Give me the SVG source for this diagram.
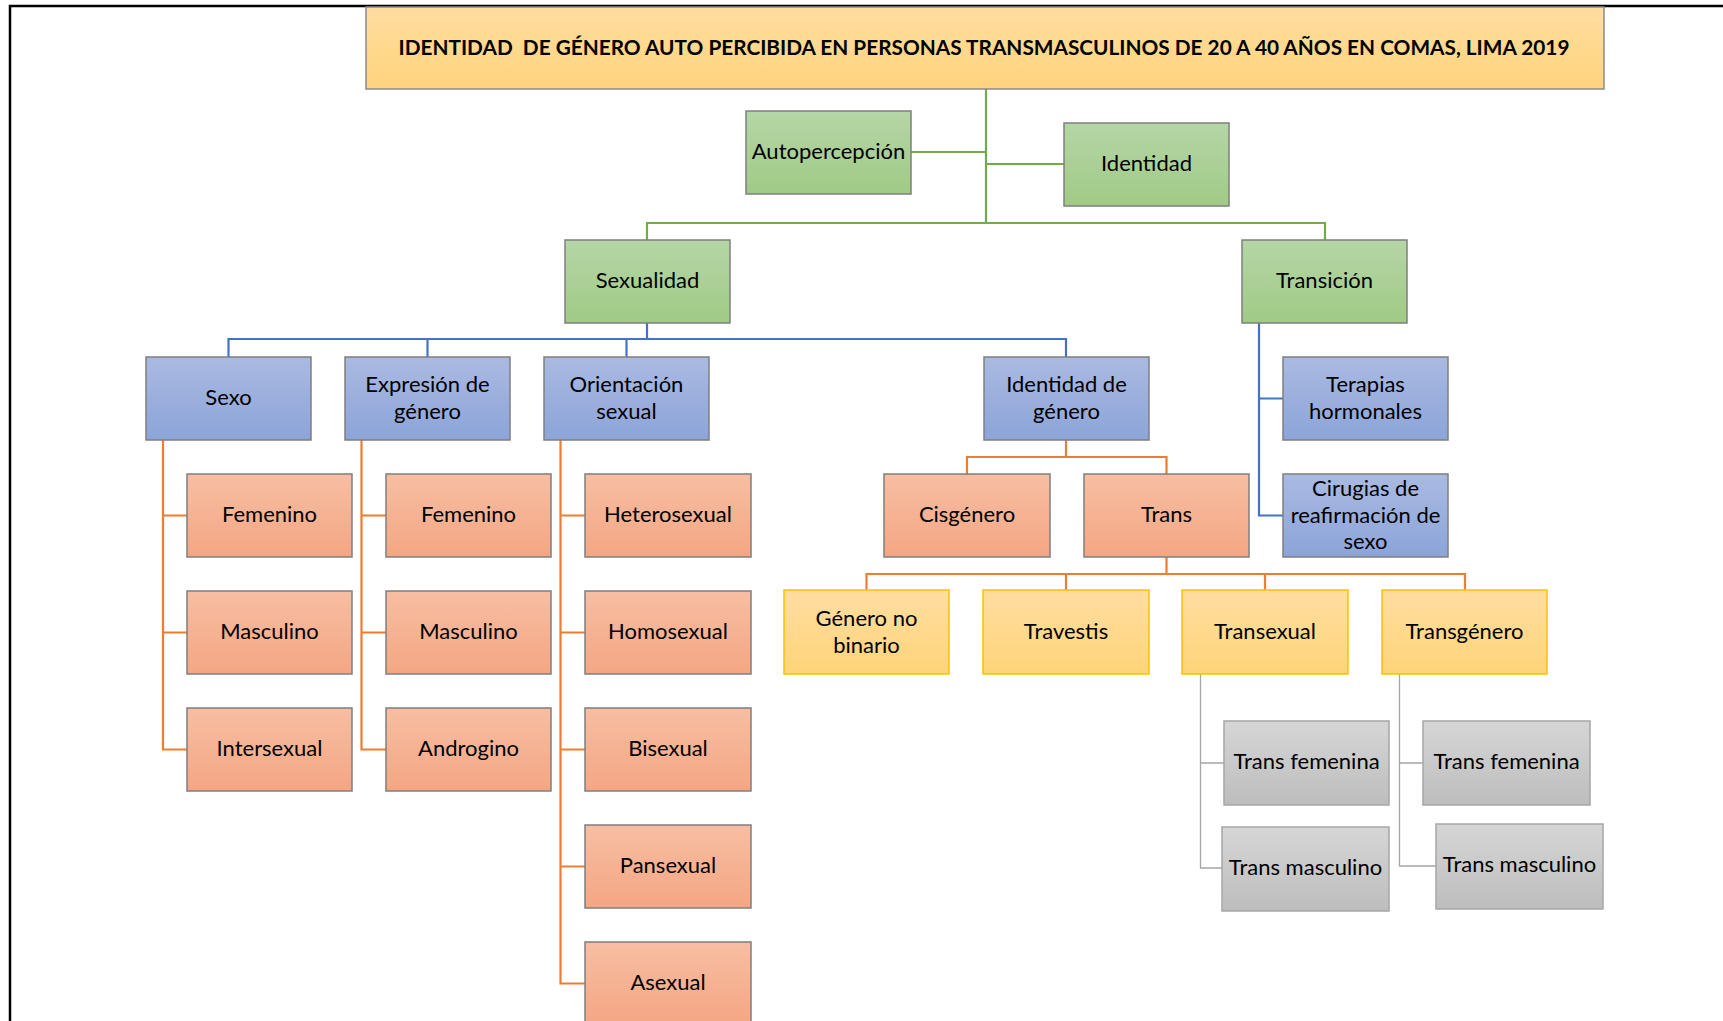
<svg xmlns="http://www.w3.org/2000/svg" width="1723" height="1021" viewBox="0 0 1723 1021">
<defs>
<linearGradient id="gTitle" x1="0" y1="0" x2="0" y2="1"><stop offset="0" stop-color="#FFDEA0"/><stop offset="1" stop-color="#FFD37C"/></linearGradient>
<linearGradient id="gGreen" x1="0" y1="0" x2="0" y2="1"><stop offset="0" stop-color="#B5D6A6"/><stop offset="1" stop-color="#A0CA86"/></linearGradient>
<linearGradient id="gBlue" x1="0" y1="0" x2="0" y2="1"><stop offset="0" stop-color="#AABAE1"/><stop offset="1" stop-color="#8CA4D9"/></linearGradient>
<linearGradient id="gOrange" x1="0" y1="0" x2="0" y2="1"><stop offset="0" stop-color="#F7BEA3"/><stop offset="1" stop-color="#F4A683"/></linearGradient>
<linearGradient id="gYellow" x1="0" y1="0" x2="0" y2="1"><stop offset="0" stop-color="#FFDEA1"/><stop offset="1" stop-color="#FFD479"/></linearGradient>
<linearGradient id="gGray" x1="0" y1="0" x2="0" y2="1"><stop offset="0" stop-color="#D6D6D6"/><stop offset="1" stop-color="#BDBDBD"/></linearGradient>
</defs>
<style>
text{font-family:Lato,"Liberation Sans",sans-serif;font-size:22px;fill:#000;text-anchor:middle}
.title text{font-weight:bold;font-size:21px;white-space:pre}
.t{fill:url(#gTitle);stroke:#8A8A8A;stroke-width:1.5}
.gr{fill:url(#gGreen);stroke:#7F7F7F;stroke-width:1.5}
.bl{fill:url(#gBlue);stroke:#7F7F7F;stroke-width:1.5}
.or{fill:url(#gOrange);stroke:#7F7F7F;stroke-width:1.5}
.ye{fill:url(#gYellow);stroke:#FFC000;stroke-width:1.5}
.gy{fill:url(#gGray);stroke:#A6A6A6;stroke-width:1.5}
.c{fill:none;stroke-width:2.2}
.cg{stroke:#70AD47}.cb{stroke:#4472C4}.co{stroke:#ED7D31}.cy{stroke:#A5A5A5;stroke-width:1.3}
</style>
<rect width="1723" height="1021" fill="#fff"/>
<path d="M10,1021 V6 H1723" fill="none" stroke="#000" stroke-width="2.5"/>

<g id="connectors">
<path class="c cg" d="M986,89 V223 M911,152 H986 M986,164 H1064 M647,240 V223 H1325 V240"/>
<path class="c cb" d="M647,323 V339 M228.5,357 V339 H1066 V357 M427.5,339 V357 M626.5,339 V357 M1259,323 V515.5 H1283 M1259,398.5 H1283"/>
<path class="c co" d="M163,440 V749.5 H187 M163,515.5 H187 M163,632.5 H187 M361.5,440 V749.5 H386 M361.5,515.5 H386 M361.5,632.5 H386 M560.5,440 V983.5 H585 M560.5,515.5 H585 M560.5,632.5 H585 M560.5,749.5 H585 M560.5,866.5 H585 M1066,440 V457 M967,474 V457 H1166.5 V474 M1166.5,557 V574 M866.5,590 V574 H1465 V590 M1066,574 V590 M1265,574 V590"/>
<path class="c cy" d="M1200.5,674 V868 H1222 M1200.5,763 H1224 M1399.5,674 V866 H1436 M1399.5,763 H1423"/>
</g>

<g id="title" class="title"><rect class="t" x="366" y="7" width="1238" height="82"/><text x="984" y="55" xml:space="preserve" textLength="1171" lengthAdjust="spacingAndGlyphs">IDENTIDAD  DE GÉNERO AUTO PERCIBIDA EN PERSONAS TRANSMASCULINOS DE 20 A 40 AÑOS EN COMAS, LIMA 2019</text></g>

<g id="autopercepcion"><rect class="gr" x="746" y="111" width="165" height="83"/><text x="828.5" y="159">Autopercepción</text></g>
<g id="identidad"><rect class="gr" x="1064" y="123" width="165" height="83"/><text x="1146.5" y="171">Identidad</text></g>
<g id="sexualidad"><rect class="gr" x="565" y="240" width="165" height="83"/><text x="647.5" y="288">Sexualidad</text></g>
<g id="transicion"><rect class="gr" x="1242" y="240" width="165" height="83"/><text x="1324.5" y="288">Transición</text></g>

<g id="sexo"><rect class="bl" x="146" y="357" width="165" height="83"/><text x="228.5" y="405">Sexo</text></g>
<g id="expresion"><rect class="bl" x="345" y="357" width="165" height="83"/><text x="427.5" y="392">Expresión de</text><text x="427.5" y="419">género</text></g>
<g id="orientacion"><rect class="bl" x="544" y="357" width="165" height="83"/><text x="626.5" y="392">Orientación</text><text x="626.5" y="419">sexual</text></g>
<g id="identidad-genero"><rect class="bl" x="984" y="357" width="165" height="83"/><text x="1066.5" y="392">Identidad de</text><text x="1066.5" y="419">género</text></g>
<g id="terapias"><rect class="bl" x="1283" y="357" width="165" height="83"/><text x="1365.5" y="392">Terapias</text><text x="1365.5" y="419">hormonales</text></g>
<g id="cirugias"><rect class="bl" x="1283" y="474" width="165" height="83"/><text x="1365.5" y="496">Cirugias de</text><text x="1365.5" y="523">reafirmación de</text><text x="1365.5" y="549">sexo</text></g>

<g id="sexo-femenino"><rect class="or" x="187" y="474" width="165" height="83"/><text x="269.5" y="522">Femenino</text></g>
<g id="sexo-masculino"><rect class="or" x="187" y="591" width="165" height="83"/><text x="269.5" y="639">Masculino</text></g>
<g id="intersexual"><rect class="or" x="187" y="708" width="165" height="83"/><text x="269.5" y="756">Intersexual</text></g>
<g id="expresion-femenino"><rect class="or" x="386" y="474" width="165" height="83"/><text x="468.5" y="522">Femenino</text></g>
<g id="expresion-masculino"><rect class="or" x="386" y="591" width="165" height="83"/><text x="468.5" y="639">Masculino</text></g>
<g id="androgino"><rect class="or" x="386" y="708" width="165" height="83"/><text x="468.5" y="756">Androgino</text></g>
<g id="heterosexual"><rect class="or" x="585" y="474" width="166" height="83"/><text x="668" y="522">Heterosexual</text></g>
<g id="homosexual"><rect class="or" x="585" y="591" width="166" height="83"/><text x="668" y="639">Homosexual</text></g>
<g id="bisexual"><rect class="or" x="585" y="708" width="166" height="83"/><text x="668" y="756">Bisexual</text></g>
<g id="pansexual"><rect class="or" x="585" y="825" width="166" height="83"/><text x="668" y="873">Pansexual</text></g>
<g id="asexual"><rect class="or" x="585" y="942" width="166" height="83"/><text x="668" y="990">Asexual</text></g>
<g id="cisgenero"><rect class="or" x="884" y="474" width="166" height="83"/><text x="967" y="522">Cisgénero</text></g>
<g id="trans"><rect class="or" x="1084" y="474" width="165" height="83"/><text x="1166.5" y="522">Trans</text></g>

<g id="genero-no-binario"><rect class="ye" x="784" y="590" width="165" height="84"/><text x="866.5" y="626">Género no</text><text x="866.5" y="653">binario</text></g>
<g id="travestis"><rect class="ye" x="983" y="590" width="166" height="84"/><text x="1066" y="639">Travestis</text></g>
<g id="transexual"><rect class="ye" x="1182" y="590" width="166" height="84"/><text x="1265" y="639">Transexual</text></g>
<g id="transgenero"><rect class="ye" x="1382" y="590" width="165" height="84"/><text x="1464.5" y="639">Transgénero</text></g>

<g id="trans-femenina-1"><rect class="gy" x="1224" y="721" width="165" height="84"/><text x="1306.5" y="769">Trans femenina</text></g>
<g id="trans-masculino-1"><rect class="gy" x="1222" y="827" width="167" height="84"/><text x="1305.5" y="875">Trans masculino</text></g>
<g id="trans-femenina-2"><rect class="gy" x="1423" y="721" width="167" height="84"/><text x="1506.5" y="769">Trans femenina</text></g>
<g id="trans-masculino-2"><rect class="gy" x="1436" y="824" width="167" height="85"/><text x="1519.5" y="872">Trans masculino</text></g>
</svg>
